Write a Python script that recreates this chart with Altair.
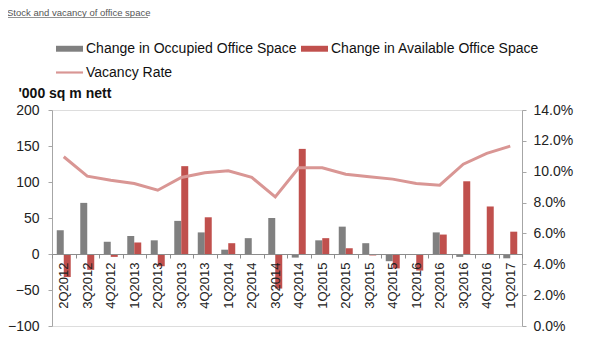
import altair as alt
import pandas as pd

quarters = ["2Q2012", "3Q2012", "4Q2012", "1Q2013", "2Q2013", "3Q2013", "4Q2013",
            "1Q2014", "2Q2014", "3Q2014", "4Q2014", "1Q2015", "2Q2015", "3Q2015",
            "4Q2015", "1Q2016", "2Q2016", "3Q2016", "4Q2016", "1Q2017"]
occupied = [33, 71, 17, 25, 19, 46, 30, 6, 22, 50, -5, 19, 38, 15, -10, 0, 30, -4, 0, -6]
available = [-32, -22, -4, 16, -17, 122, 51, 15, 0, -48, 146, 22, 8, -2, -20, -23, 27, 101, 66, 31]
vacancy = [10.97, 9.71, 9.45, 9.24, 8.80, 9.63, 9.93, 10.06, 9.63, 8.37, 10.25, 10.25,
           9.84, 9.67, 9.52, 9.24, 9.13, 10.49, 11.19, 11.66]

series_names = ["Change in Occupied Office Space", "Change in Available Office Space", "Vacancy Rate"]
series_colors = ["#808080", "#c0504d", "#d99694"]
left_ticks = [-100, -50, 0, 50, 100, 150, 200]
right_ticks = [0.0, 0.02, 0.04, 0.06, 0.08, 0.10, 0.12, 0.14]
title_text = "Stock and vacancy of office space"
left_title = "'000 sq m nett"

bars_df = pd.DataFrame(
    [{"quarter": q, "series": series_names[0], "value": v} for q, v in zip(quarters, occupied)]
    + [{"quarter": q, "series": series_names[1], "value": v} for q, v in zip(quarters, available)]
)
line_df = pd.DataFrame({"quarter": quarters, "vacancy": [v / 100 for v in vacancy]})
legend_df = pd.DataFrame({"series": series_names})

FONT = "Liberation Sans"
rect_path = "M-1,-0.22L1,-0.22L1,0.22L-1,0.22Z"
line_path = "M-1,-0.08L1,-0.08L1,0.08L-1,0.08Z"

xenc = alt.X(
    "quarter:N", sort=quarters,
    scale=alt.Scale(paddingInner=0, paddingOuter=0),
    axis=alt.Axis(
        title=None, orient="bottom", offset=-72, labelAngle=-90, tickBand="extent",
        labelFontSize=13, labelFont=FONT, labelColor="#222222", labelPadding=4,
        domainColor="#8c8c8c", tickColor="#8c8c8c", tickSize=4, grid=False, zindex=1,
    ),
)

bars = alt.Chart(bars_df).mark_bar().encode(
    x=xenc,
    xOffset=alt.XOffset("series:N", sort=series_names[:2],
                        scale=alt.Scale(paddingInner=0, paddingOuter=0.68)),
    y=alt.Y(
        "value:Q",
        scale=alt.Scale(domain=[-100, 200], nice=False),
        axis=alt.Axis(
            values=left_ticks, title=left_title, titleAngle=0, titleFontWeight="bold",
            titleFontSize=14, titleFont=FONT, titleAlign="left", titleBaseline="middle",
            titleX=-34, titleY=-17, titleColor="#111111",
            labelFontSize=14, labelFont=FONT, labelColor="#222222", labelPadding=9,
            domainColor="#a6a6a6", tickColor="#a6a6a6", tickSize=4, grid=False,
        ),
    ),
    color=alt.Color("series:N", scale=alt.Scale(domain=series_names[:2], range=series_colors[:2]),
                    legend=None),
)

line = alt.Chart(line_df).mark_line(strokeWidth=3, color=series_colors[2]).encode(
    x=alt.X("quarter:N", sort=quarters),
    y=alt.Y(
        "vacancy:Q",
        scale=alt.Scale(domain=[0, 0.14], nice=False),
        axis=alt.Axis(
            orient="right", values=right_ticks, format=".1%", title=None,
            labelFontSize=14, labelFont=FONT, labelColor="#222222", labelPadding=7,
            domainColor="#a6a6a6", tickColor="#a6a6a6", tickSize=4, grid=False,
        ),
    ),
)

leg = alt.Legend(
    orient="none", legendX=4, legendY=-75, columns=2, direction="horizontal", title=None,
    labelFontSize=14, labelFont=FONT, labelColor="#111111", labelOffset=3,
    symbolSize=729, symbolOpacity=1, symbolStrokeWidth=0,
    columnPadding=4, rowPadding=3, labelLimit=400,
)

legend_layer = alt.Chart(legend_df).mark_point(filled=True, opacity=0).encode(
    x=alt.value(0),
    y=alt.value(0),
    color=alt.Color("series:N", scale=alt.Scale(domain=series_names, range=series_colors),
                    legend=leg),
    shape=alt.Shape("series:N",
                    scale=alt.Scale(domain=series_names, range=[rect_path, rect_path, line_path]),
                    legend=leg),
)

title_layer = alt.Chart(pd.DataFrame({"t": [title_text]})).mark_text(
    align="left", baseline="middle", fontSize=9.5, font=FONT, color="#555555"
).encode(x=alt.value(-45), y=alt.value(-97), text="t:N")

underline = alt.Chart(pd.DataFrame({"t": [title_text]})).mark_rule(
    color="#777777", strokeWidth=0.8
).encode(x=alt.value(-45), x2=alt.value(96), y=alt.value(-92.5))

chart = alt.layer(bars, line, legend_layer, title_layer, underline).resolve_scale(
    y="independent", color="independent", shape="independent"
).resolve_legend(color="independent", shape="independent").properties(
    width=470, height=216,
    autosize=alt.AutoSizeParams(type="none"),
    padding={"left": 44, "top": 102, "right": 70, "bottom": 30},
).configure_view(stroke=None).configure(background="white")

chart.save("out.html", embed_options={"renderer": "svg", "actions": False})
